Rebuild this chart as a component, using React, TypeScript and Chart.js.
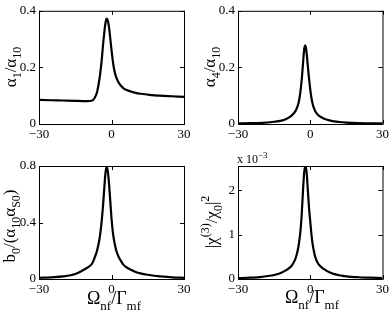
import React, { useEffect, useRef } from 'react';
import { Chart, registerables } from 'chart.js';

Chart.register(...registerables);

const SERIF = "'Liberation Serif', 'Times New Roman', serif";
Chart.defaults.font.family = SERIF;
Chart.defaults.color = '#000';

// Shared detuning grid (Ω_nf/Γ_mf)
const xValues = [-30, -25, -20, -15, -12, -10, -8, -7, -6, -5, -4.5, -4, -3.5, -3, -2.5, -2, -1.5, -1, -0.5, 0, 0.5, 1, 1.5, 2, 3, 4, 5, 6, 8, 10, 12, 15, 20, 25, 30];

// α1/α10
const alpha1 = [0.085, 0.084, 0.083, 0.082, 0.081, 0.081, 0.083, 0.092, 0.112, 0.158, 0.19, 0.23, 0.28, 0.322, 0.356, 0.372, 0.365, 0.34, 0.302, 0.262, 0.226, 0.198, 0.178, 0.164, 0.146, 0.134, 0.126, 0.121, 0.115, 0.11, 0.107, 0.104, 0.1, 0.098, 0.096];
// α4/α10
const alpha4 = [0.002, 0.003, 0.004, 0.008, 0.012, 0.018, 0.028, 0.036, 0.048, 0.07, 0.09, 0.12, 0.16, 0.215, 0.265, 0.278, 0.25, 0.205, 0.16, 0.122, 0.092, 0.071, 0.057, 0.047, 0.034, 0.027, 0.022, 0.018, 0.013, 0.009, 0.007, 0.005, 0.003, 0.002, 0.002];
// b0/(α10 αS0)
const b0 = [0.008, 0.012, 0.018, 0.035, 0.06, 0.08, 0.11, 0.15, 0.2, 0.28, 0.34, 0.42, 0.52, 0.64, 0.75, 0.795, 0.76, 0.67, 0.55, 0.43, 0.34, 0.28, 0.235, 0.2, 0.155, 0.125, 0.1, 0.085, 0.065, 0.05, 0.04, 0.03, 0.018, 0.012, 0.008];
// |χ(3)/χ0|² in units of 10^-3
const chi3 = [0.02, 0.03, 0.05, 0.09, 0.14, 0.2, 0.28, 0.36, 0.48, 0.7, 0.88, 1.12, 1.5, 2.0, 2.42, 2.55, 2.4, 2.0, 1.6, 1.3, 1.0, 0.78, 0.63, 0.51, 0.37, 0.3, 0.25, 0.21, 0.15, 0.11, 0.085, 0.06, 0.04, 0.03, 0.02];

const xTicks = [-30, 0, 30];
const xTickLabels = ['\u221230', '0', '30'];
const yTicksA = [0, 0.2, 0.4];
const yTickLabelsA = ['0', '0.2', '0.4'];
const yTicksB = [0, 0.4, 0.8];
const yTickLabelsB = ['0', '0.4', '0.8'];
const yTicksC = [0, 1, 2];
const yTickLabelsC = ['0', '1', '2'];

type Seg = [string, number]; // 0 normal, 1 subscript, 2 superscript

function drawRich(ctx: CanvasRenderingContext2D, segs: Seg[], x: number, y: number, rot: boolean, size: number, align: 'center' | 'left' = 'center') {
  const sub = Math.round(size * 0.72);
  const fontOf = (k: number) => `${k ? sub : size}px ${SERIF}`;
  ctx.save();
  ctx.translate(x, y);
  if (rot) ctx.rotate(-Math.PI / 2);
  let w = 0;
  for (const [t, k] of segs) {
    ctx.font = fontOf(k);
    w += ctx.measureText(t).width;
  }
  let cx = align === 'center' ? -w / 2 : 0;
  ctx.fillStyle = '#000';
  ctx.textBaseline = 'alphabetic';
  ctx.textAlign = 'left';
  for (const [t, k] of segs) {
    ctx.font = fontOf(k);
    const dy = k === 1 ? size * 0.32 : k === 2 ? -size * 0.45 : 0;
    ctx.fillText(t, cx, dy);
    cx += ctx.measureText(t).width;
  }
  ctx.restore();
}

interface PanelSpec {
  left: number; top: number; width: number; height: number;
  areaLeft: number; areaTop: number; areaRight: number; areaBottom: number;
  values: number[];
  yMax: number;
  yTicks: number[];
  yTickLabels: string[];
  yTitle: Seg[];
  yTitleX: number; yTitleY: number;
  xTitle?: boolean; xTitleX?: number; xTitleY?: number;
  multiplier?: boolean;
}

const xTitleSegs: Seg[] = [['\u03A9', 0], ['nf', 1], ['/\u0393', 0], ['mf', 1]];

const panels: PanelSpec[] = [
  {
    left: 0, top: 0, width: 196, height: 150,
    areaLeft: 39, areaTop: 10, areaRight: 184, areaBottom: 124,
    values: alpha1, yMax: 0.4, yTicks: yTicksA, yTickLabels: yTickLabelsA,
    yTitle: [['\u03B1', 0], ['1', 1], ['/\u03B1', 0], ['10', 1]],
    yTitleX: 16, yTitleY: 67,
  },
  {
    left: 196, top: 0, width: 196, height: 150,
    areaLeft: 42, areaTop: 10, areaRight: 188, areaBottom: 124,
    values: alpha4, yMax: 0.4, yTicks: yTicksA, yTickLabels: yTickLabelsA,
    yTitle: [['\u03B1', 0], ['4', 1], ['/\u03B1', 0], ['10', 1]],
    yTitleX: 19, yTitleY: 67,
  },
  {
    left: 0, top: 150, width: 196, height: 165,
    areaLeft: 39, areaTop: 16, areaRight: 184, areaBottom: 129,
    values: b0, yMax: 0.8, yTicks: yTicksB, yTickLabels: yTickLabelsB,
    yTitle: [['b', 0], ['0', 1], ['/(\u03B1', 0], ['10', 1], ['\u03B1', 0], ['S0', 1], [')', 0]],
    yTitleX: 15, yTitleY: 76,
    xTitle: true, xTitleX: 114, xTitleY: 154,
  },
  {
    left: 196, top: 150, width: 196, height: 165,
    areaLeft: 42, areaTop: 16, areaRight: 188, areaBottom: 129,
    values: chi3, yMax: 2.55, yTicks: yTicksC, yTickLabels: yTickLabelsC,
    yTitle: [['|\u03C7', 0], ['(3)', 2], ['/\u03C7', 0], ['0', 1], ['|', 0], ['2', 2]],
    yTitleX: 21, yTitleY: 72,
    xTitle: true, xTitleX: 116, xTitleY: 153,
    multiplier: true,
  },
];

function makeChart(canvas: HTMLCanvasElement, p: PanelSpec) {
  const decor = {
    id: 'decor' + p.left + '_' + p.top,
    afterDraw(chart: any) {
      const ctx: CanvasRenderingContext2D = chart.ctx;
      const a = chart.chartArea;
      const xs = chart.scales.x;
      const ys = chart.scales.y;
      ctx.save();
      ctx.strokeStyle = '#000';
      ctx.lineWidth = 1;
      ctx.strokeRect(a.left + 0.5, a.top + 0.5, a.right - a.left, a.bottom - a.top);
      const tl = 4;
      ctx.beginPath();
      for (const v of xTicks) {
        const px = Math.round(xs.getPixelForValue(v)) + 0.5;
        ctx.moveTo(px, a.bottom); ctx.lineTo(px, a.bottom - tl);
        ctx.moveTo(px, a.top); ctx.lineTo(px, a.top + tl);
      }
      for (const v of p.yTicks) {
        const py = Math.round(ys.getPixelForValue(v)) + 0.5;
        ctx.moveTo(a.left, py); ctx.lineTo(a.left + tl, py);
        ctx.moveTo(a.right, py); ctx.lineTo(a.right - tl, py);
      }
      ctx.stroke();
      ctx.restore();
      drawRich(ctx, p.yTitle, p.yTitleX, p.yTitleY, true, 17);
      if (p.xTitle) drawRich(ctx, xTitleSegs, p.xTitleX!, p.xTitleY!, false, 18);
      if (p.multiplier) {
        drawRich(ctx, [['x 10', 0], ['\u22123', 2]], 41, 13, false, 12, 'left');
      }
    },
  };

  const yTickLabelFor = (v: number) => {
    const i = p.yTicks.findIndex((t) => Math.abs(t - v) < 1e-9);
    return i >= 0 ? p.yTickLabels[i] : '';
  };
  const xTickLabelFor = (v: number) => {
    const i = xTicks.findIndex((t) => Math.abs(t - v) < 1e-9);
    return i >= 0 ? xTickLabels[i] : '';
  };

  return new Chart(canvas, {
    type: 'line',
    data: {
      datasets: [
        {
          data: xValues.map((x, i) => ({ x, y: p.values[i] })),
          borderColor: '#000',
          borderWidth: 2.2,
          pointRadius: 0,
          fill: false,
          cubicInterpolationMode: 'monotone',
        },
      ],
    },
    options: {
      responsive: false,
      animation: false,
      events: [],
      layout: {
        padding: {
          left: 0,
          top: p.areaTop,
          right: p.width - p.areaRight,
          bottom: 0,
        },
      },
      plugins: {
        legend: { display: false },
        tooltip: { enabled: false },
        title: { display: false },
      },
      scales: {
        x: {
          type: 'linear',
          min: -30,
          max: 30,
          grid: { display: false, drawTicks: false },
          border: { display: false },
          afterBuildTicks: (s: any) => { s.ticks = xTicks.map((v) => ({ value: v })); },
          afterFit: (s: any) => { s.height = p.height - p.areaBottom; },
          ticks: {
            padding: 3,
            maxRotation: 0,
            autoSkip: false,
            color: '#000',
            font: { family: SERIF, size: 13 },
            callback: (v: any) => xTickLabelFor(Number(v)),
          },
        },
        y: {
          type: 'linear',
          min: 0,
          max: p.yMax,
          grid: { display: false, drawTicks: false },
          border: { display: false },
          afterBuildTicks: (s: any) => { s.ticks = p.yTicks.map((v) => ({ value: v })); },
          afterFit: (s: any) => { s.width = p.areaLeft; },
          ticks: {
            padding: 3,
            autoSkip: false,
            color: '#000',
            font: { family: SERIF, size: 13 },
            callback: (v: any) => yTickLabelFor(Number(v)),
          },
        },
      },
    },
    plugins: [decor],
  } as any);
}

export default function App() {
  const refs = useRef<(HTMLCanvasElement | null)[]>([]);
  useEffect(() => {
    const charts = panels.map((p, i) => makeChart(refs.current[i]!, p));
    return () => charts.forEach((c) => c.destroy());
  }, []);
  return (
    <div style={{ position: 'absolute', left: 0, top: 0, width: 392, height: 315, background: '#fff' }}>
      {panels.map((p, i) => (
        <canvas
          key={i}
          ref={(el) => { refs.current[i] = el; }}
          width={p.width}
          height={p.height}
          style={{ position: 'absolute', left: p.left, top: p.top, width: p.width, height: p.height, display: 'block' }}
        />
      ))}
    </div>
  );
}
